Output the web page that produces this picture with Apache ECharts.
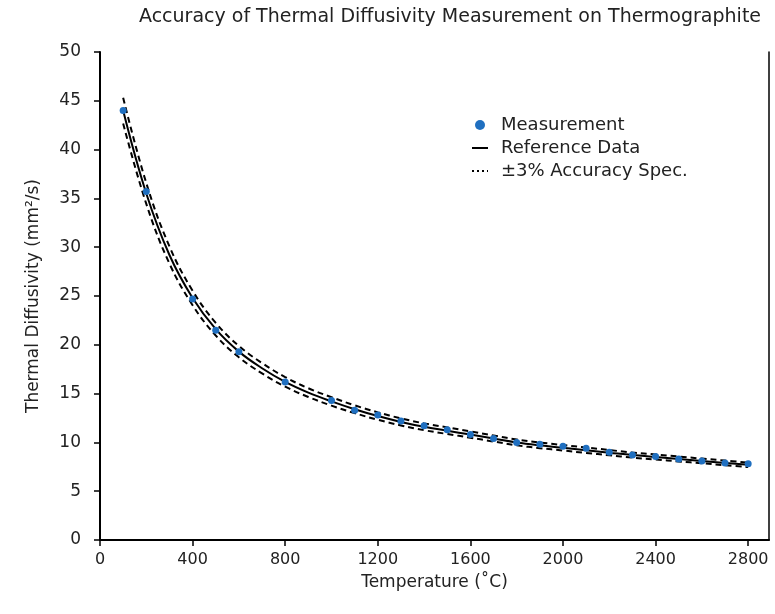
<!DOCTYPE html>
<html>
<head>
<meta charset="utf-8">
<script src="https://cdn.jsdelivr.net/npm/echarts@6/dist/echarts.min.js"></script>
<style>
html,body{margin:0;padding:0;background:#fff;}
#chart{width:775px;height:614px;}
</style>
</head>
<body>
<div id="chart"></div>
<script>
// ---- Data ----
var measTemps = [100, 200, 400, 500, 600, 800, 1000, 1100, 1200, 1300, 1400, 1500, 1600, 1700, 1800, 1900, 2000, 2100, 2200, 2300, 2400, 2500, 2600, 2700, 2800];
var measValues = [44.0, 35.7, 24.7, 21.5, 19.3, 16.2, 14.3, 13.3, 12.8, 12.2, 11.7, 11.3, 10.8, 10.4, 10.0, 9.8, 9.6, 9.4, 9.0, 8.7, 8.55, 8.3, 8.1, 7.9, 7.8];

var refTemps = [100, 200, 300, 400, 500, 600, 700, 800, 900, 1000, 1100, 1200, 1300, 1400, 1500, 1600, 1700, 1800, 1900, 2000, 2100, 2200, 2300, 2400, 2500, 2600, 2700, 2800];
var refValues = [44.0, 35.5, 29.2, 24.8, 21.6, 19.3, 17.6, 16.2, 15.1, 14.2, 13.4, 12.7, 12.1, 11.6, 11.2, 10.8, 10.4, 10.0, 9.7, 9.45, 9.2, 8.95, 8.7, 8.5, 8.3, 8.1, 7.9, 7.7];
var upperValues = [45.32, 36.57, 30.08, 25.54, 22.25, 19.88, 18.13, 16.69, 15.55, 14.63, 13.80, 13.08, 12.46, 11.95, 11.54, 11.12, 10.71, 10.30, 9.99, 9.73, 9.48, 9.22, 8.96, 8.76, 8.55, 8.34, 8.14, 7.93];
var lowerValues = [42.68, 34.44, 28.32, 24.06, 20.95, 18.72, 17.07, 15.71, 14.65, 13.77, 13.00, 12.32, 11.74, 11.25, 10.86, 10.48, 10.09, 9.70, 9.41, 9.17, 8.92, 8.68, 8.44, 8.25, 8.05, 7.86, 7.66, 7.47];

var xTicks = [0, 400, 800, 1200, 1600, 2000, 2400, 2800];

var titleText = 'Accuracy of Thermal Diffusivity Measurement on Thermographite';
var xName = 'Temperature (˚C)';
var yName = 'Thermal Diffusivity (mm²/s)';
var legendNames = ['Measurement', 'Reference Data', '±3% Accuracy Spec.'];

function zip(a, b) { return a.map(function (v, i) { return [v, b[i]]; }); }

var FONT = 'DejaVu Sans';
var chart = echarts.init(document.getElementById('chart'), null, {renderer: 'canvas'});
chart.setOption({
  backgroundColor: '#fff',
  animation: false,
  title: {
    text: titleText,
    left: 445, top: 3, textAlign: 'center',
    textStyle: {fontFamily: FONT, fontSize: 19, fontWeight: 'normal', color: '#222'}
  },
  legend: {
    orient: 'vertical', left: 466, top: 111,
    itemWidth: 16, itemHeight: 10, itemGap: 5,
    data: [
      {name: legendNames[0], icon: 'circle', itemStyle: {color: '#1f6fc0', opacity: 1}},
      {name: legendNames[1], itemStyle: {opacity: 0}, lineStyle: {color: '#000', width: 2, type: 'solid'}},
      {name: legendNames[2], itemStyle: {opacity: 0}, lineStyle: {color: '#000', width: 2, type: [2, 3]}}
    ],
    textStyle: {fontFamily: FONT, fontSize: 18, color: '#222', padding: [0, 0, 0, 8]}
  },
  grid: {left: 100, right: 6, top: 52, bottom: 74},
  xAxis: {
    type: 'value', min: 0, max: 2890,
    name: xName, nameLocation: 'middle', nameGap: 34,
    nameTextStyle: {fontFamily: FONT, fontSize: 17, color: '#222'},
    axisLine: {show: true, onZero: false, lineStyle: {color: '#000', width: 2}},
    axisTick: {show: true, length: 6, customValues: xTicks, lineStyle: {color: '#000', width: 1.5}},
    axisLabel: {customValues: xTicks, margin: 12, fontFamily: FONT, fontSize: 16, color: '#222',
      formatter: function (v) { return String(v); }},
    splitLine: {show: false}
  },
  yAxis: [{
    type: 'value', min: 0, max: 50, interval: 5,
    name: yName, nameLocation: 'middle', nameGap: 58, nameRotate: 90,
    nameTextStyle: {fontFamily: FONT, fontSize: 17, color: '#222'},
    axisLine: {show: true, onZero: false, lineStyle: {color: '#000', width: 2}},
    axisTick: {show: true, length: 6, lineStyle: {color: '#000', width: 1.5}},
    axisLabel: {margin: 19, fontFamily: FONT, fontSize: 17, color: '#222'},
    splitLine: {show: false}
  }, {
    type: 'value', min: 0, max: 50, position: 'right',
    axisLine: {show: true, onZero: false, lineStyle: {color: '#000', width: 1.5}},
    axisTick: {show: false}, axisLabel: {show: false}, splitLine: {show: false}
  }],
  series: [
    {
      name: legendNames[2], type: 'line', data: zip(refTemps, upperValues),
      smooth: 0.4, symbol: 'none', z: 2,
      lineStyle: {color: '#000', width: 2, type: [6, 4]},
      itemStyle: {color: '#000'}
    },
    {
      name: legendNames[2], type: 'line', data: zip(refTemps, lowerValues),
      smooth: 0.4, symbol: 'none', z: 2,
      lineStyle: {color: '#000', width: 2, type: [6, 4]},
      itemStyle: {color: '#000'}
    },
    {
      name: legendNames[1], type: 'line', data: zip(refTemps, refValues),
      smooth: 0.4, symbol: 'none', z: 3,
      lineStyle: {color: '#000', width: 2},
      itemStyle: {color: '#000'}
    },
    {
      name: legendNames[0], type: 'scatter', data: zip(measTemps, measValues),
      symbol: 'circle', symbolSize: 7, z: 4,
      itemStyle: {color: '#1f6fc0', opacity: 1}
    }
  ]
});
</script>
</body>
</html>
